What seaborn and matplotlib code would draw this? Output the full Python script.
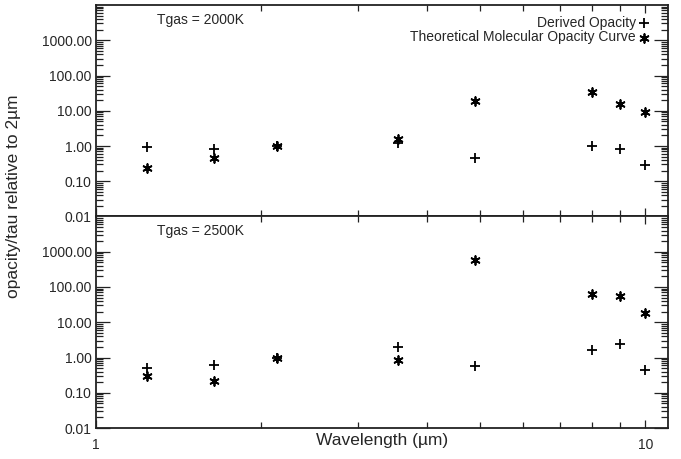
import numpy as np
import pandas as pd
import matplotlib
matplotlib.use("Agg")
import matplotlib.pyplot as plt
import matplotlib.ticker as mticker
import seaborn as sns

sns.set_theme(style="ticks")
plt.rcParams['font.family'] = ['Liberation Sans', 'DejaVu Sans']

wavelength = [1.24, 1.64, 2.14, 3.55, 4.9, 8.0, 9.0, 10.0]
derived_2000 = [0.92, 0.84, 1.0, 1.25, 0.47, 1.0, 0.82, 0.29]
theory_2000 = [0.23, 0.45, 1.0, 1.55, 18.4, 34.0, 15.9, 9.0]
derived_2500 = [0.52, 0.61, 1.0, 2.05, 0.59, 1.66, 2.34, 0.45]
theory_2500 = [0.29, 0.22, 1.0, 0.86, 597.0, 65.0, 54.0, 18.3]
panel_titles = ["Tgas = 2000K", "Tgas = 2500K"]
ytick_vals = [0.01, 0.1, 1.0, 10.0, 100.0, 1000.0]

series_names = ["Derived Opacity", "Theoretical Molecular Opacity Curve"]
asterisk = (6, 2, 0)
markers = {series_names[0]: "+", series_names[1]: asterisk}
sizes_map = {series_names[0]: 42, series_names[1]: 40}

fig = plt.figure(figsize=(6.81, 4.59), dpi=100)
gs = fig.add_gridspec(2, 1, left=96/681, right=668/681, top=1-5/459, bottom=1-428/459, hspace=0)
axes = [fig.add_subplot(gs[0]), fig.add_subplot(gs[1])]

data = [(derived_2000, theory_2000), (derived_2500, theory_2500)]
for i, (ax, (der, the), title) in enumerate(zip(axes, data, panel_titles)):
    df = pd.DataFrame({
        "x": wavelength * 2,
        "y": der + the,
        "series": [series_names[0]] * len(der) + [series_names[1]] * len(the),
    })
    for name in series_names:
        sub = df[df["series"] == name]
        sns.scatterplot(data=sub, x="x", y="y", marker=markers[name], color="black",
                        s=sizes_map[name], linewidth=1.3, ax=ax, label=name if i == 0 else None,
                        legend=False)
    ax.set_xscale("log")
    ax.set_yscale("log")
    ax.set_xlim(1, 11)
    ax.set_ylim(0.01, 10000)
    ax.yaxis.set_major_locator(mticker.FixedLocator(ytick_vals))
    ax.yaxis.set_major_formatter(mticker.FuncFormatter(lambda v, p: "%.2f" % v))
    ax.yaxis.set_minor_locator(mticker.LogLocator(base=10, subs=np.arange(2, 10), numticks=20))
    ax.yaxis.set_minor_formatter(mticker.NullFormatter())
    ax.xaxis.set_major_locator(mticker.FixedLocator([1, 10]))
    ax.xaxis.set_minor_locator(mticker.FixedLocator([2, 3, 4, 5, 6, 7, 8, 9]))
    ax.xaxis.set_minor_formatter(mticker.NullFormatter())
    if i == 0:
        ax.set_xticklabels([])
    else:
        ax.xaxis.set_major_formatter(mticker.FuncFormatter(lambda v, p: "%d" % v))
    ax.tick_params(which="both", direction="in", top=True, right=True, labelsize=10,
                   color="#222222", width=0.9)
    ax.tick_params(axis="y", which="major", length=10, pad=3)
    ax.tick_params(axis="y", which="minor", length=5)
    ax.tick_params(axis="x", which="major", length=6, pad=7)
    ax.tick_params(axis="x", which="minor", length=4)
    for sp in ax.spines.values():
        sp.set_linewidth(1.3)
        sp.set_color("#222222")
    ax.set_xlabel("")
    ax.set_ylabel("")
    ax.text(0.107, 0.93, title, transform=ax.transAxes, fontsize=10, ha="left", va="center")

leg = axes[0].legend(loc="upper right", bbox_to_anchor=(0.985, 0.995), frameon=False,
                     markerfirst=False, fontsize=10, handletextpad=0.2, labelspacing=0.05,
                     borderaxespad=0.3, handlelength=0.8)
for t in leg.get_texts():
    t.set_ha("right")

fig.text(382/681, 1-440/459, "Wavelength (\u00b5m)", ha="center", va="center", fontsize=12.5)
fig.text(14/681, 1-196/459, "opacity/tau relative to 2\u00b5m", ha="center", va="center",
         rotation=90, fontsize=12.5)

fig.savefig("out.png", dpi=100)
